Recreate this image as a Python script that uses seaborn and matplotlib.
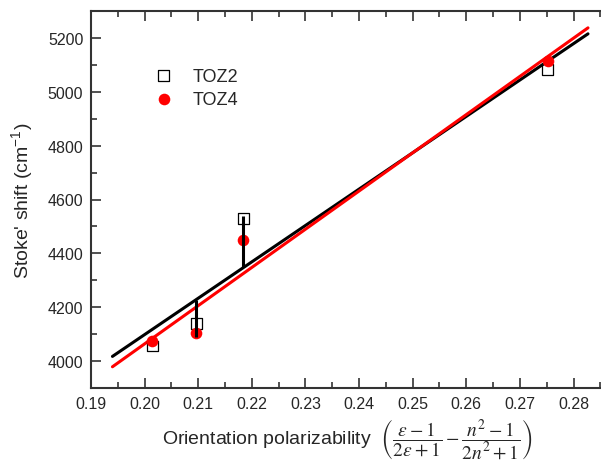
import numpy as np
import pandas as pd
import matplotlib
matplotlib.use("Agg")
import matplotlib.pyplot as plt
import seaborn as sns

# data
x_toz2 = [0.2014, 0.2096, 0.2184, 0.2752]
y_toz2 = [4056, 4140, 4528, 5082]
x_toz4 = [0.2014, 0.2096, 0.2184, 0.2752]
y_toz4 = [4074, 4103, 4450, 5113]
fit_range = [0.194, 0.2827]
drop_x = [0.2096, 0.2184]
drop_lo = [4090, 4350]
drop_hi = [4227, 4540]
xticks = [0.19, 0.20, 0.21, 0.22, 0.23, 0.24, 0.25, 0.26, 0.27, 0.28]
yticks = [4000, 4200, 4400, 4600, 4800, 5000, 5200]

sns.set_style("ticks")
plt.rcParams['font.family'] = ['Liberation Sans', 'DejaVu Sans']
plt.rcParams['mathtext.fontset'] = 'stix'
plt.rcParams['xtick.direction'] = 'in'
plt.rcParams['ytick.direction'] = 'in'

fig = plt.figure(figsize=(6.01, 4.64), dpi=100)
ax = fig.add_axes([91/601, 75/464, 512/601, 377/464])

# fit lines
def fit_df(xs, ys):
    k, b = np.polyfit(xs, ys, 1)
    xf = np.array(fit_range)
    return pd.DataFrame({"x": xf, "y": k * xf + b})

f2 = fit_df(x_toz2, y_toz2)
f4 = fit_df(x_toz4, y_toz4)
sns.lineplot(data=f2, x="x", y="y", ax=ax, color="black", lw=2.2, zorder=2)
sns.lineplot(data=f4, x="x", y="y", ax=ax, color="#ff0000", lw=2.2, zorder=2)

d2 = pd.DataFrame({"x": x_toz2, "y": y_toz2})
d4 = pd.DataFrame({"x": x_toz4, "y": y_toz4})
sns.scatterplot(data=d2, x="x", y="y", ax=ax, marker="s", s=62,
                facecolor="none", edgecolor="black", linewidth=0.9, zorder=3,
                label="TOZ2")
sns.scatterplot(data=d4, x="x", y="y", ax=ax, marker="o", s=70,
                color="#ff0000", edgecolor="#ff0000", linewidth=0, zorder=3,
                label="TOZ4")
ax.vlines(drop_x, drop_lo, drop_hi, color="black", lw=2.2, zorder=4)

ax.set_xlim(0.19, 0.2855)
ax.set_ylim(3900, 5300)
ax.set_xticks(xticks)
ax.set_xticklabels([f"{t:.2f}" for t in xticks])
ax.set_yticks(yticks)
ax.xaxis.set_minor_locator(matplotlib.ticker.MultipleLocator(0.005))
ax.yaxis.set_minor_locator(matplotlib.ticker.MultipleLocator(100))
ax.tick_params(which="both", direction="in", top=True, right=False,
               labelsize=11.5, width=1.2, color="#333333", pad=5.5)
ax.tick_params(which="major", length=7)
ax.tick_params(which="minor", length=4)
for s in ["left", "bottom", "top"]:
    ax.spines[s].set_linewidth(1.5)
    ax.spines[s].set_color("#333333")
ax.spines["right"].set_visible(False)

ax.set_ylabel("Stoke' shift (cm$^{\\mathregular{-1}}$)", fontsize=14, labelpad=8)
ax.set_xlabel(r"Orientation polarizability  $\left(\dfrac{\varepsilon-1}{2\varepsilon+1}-\dfrac{n^2-1}{2n^2+1}\right)$",
              fontsize=14, labelpad=4)

leg = ax.legend(loc="upper left", bbox_to_anchor=(0.075, 0.893), frameon=False,
                fontsize=13, handletextpad=0.6, labelspacing=0.35,
                markerscale=1.0)

fig.savefig("out.png", dpi=100)
